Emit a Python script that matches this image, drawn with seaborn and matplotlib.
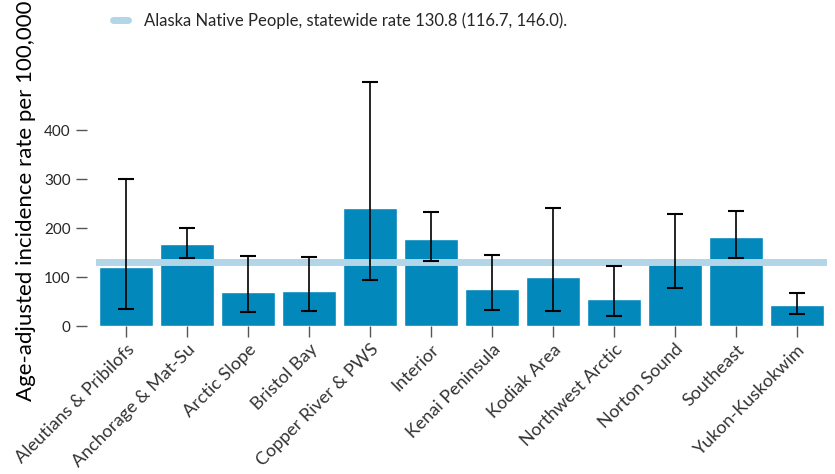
import matplotlib
matplotlib.use("Agg")
import matplotlib.pyplot as plt
import seaborn as sns
import numpy as np
import pandas as pd
from matplotlib.lines import Line2D

regions = ["Aleutians & Pribilofs", "Anchorage & Mat-Su", "Arctic Slope", "Bristol Bay",
           "Copper River & PWS", "Interior", "Kenai Peninsula", "Kodiak Area",
           "Northwest Arctic", "Norton Sound", "Southeast", "Yukon-Kuskokwim"]
rates = [121, 167, 69, 71, 241, 177, 75, 100, 55, 139, 182, 43]
lower = [35, 139, 28, 31, 95, 133, 33, 31, 20, 77, 139, 24]
upper = [300, 200, 144, 141, 498, 233, 145, 241, 122, 228, 234, 68]
statewide_rate = 130.8
statewide_label = "Alaska Native People, statewide rate 130.8 (116.7, 146.0)."
ytick_vals = [0, 100, 200, 300, 400]

sns.set_theme(style="white")
plt.rcParams['font.family'] = ['Lato', 'DejaVu Sans']

df = pd.DataFrame({"region": regions, "rate": rates})

fig = plt.figure(figsize=(8.35, 4.74), dpi=100)
ax = fig.add_axes([0.1144, 0.3122, 0.991 - 0.1144, 0.873 - 0.3122])

sns.barplot(data=df, x="region", y="rate", color="#0288bb", saturation=1, width=0.9, ax=ax)

ax.axhline(statewide_rate, color="#b3d5e8", lw=5, zorder=3)

x = np.arange(len(regions))
r = np.array(rates)
ax.errorbar(x, r, yerr=[r - np.array(lower), np.array(upper) - r], fmt="none",
            ecolor="black", elinewidth=1.2, capsize=6, capthick=1.5, zorder=4)

ax.set_ylim(0, 543)
ax.set_xlim(-0.5, len(regions) - 0.5)
ax.set_yticks(ytick_vals)
ax.set_yticklabels([str(v) for v in ytick_vals], fontsize=13, color="#333333")
ax.set_xticks(x)
ax.set_xticklabels(regions, rotation=45, ha="right", rotation_mode="anchor",
                   fontsize=13, color="#333333")
ax.tick_params(axis="both", which="both", length=8, width=1, color="#555555",
               left=True, bottom=True)
ax.tick_params(axis="x", pad=3)
ax.tick_params(axis="y", pad=4)
for s in ax.spines.values():
    s.set_visible(False)
ax.spines["left"].set_position(("outward", 6))
ax.set_xlabel("")
ax.set_ylabel("Age-adjusted incidence rate per 100,000", fontsize=16, color="black")
ax.yaxis.set_label_coords(-0.082, 0.47)

handle = Line2D([0], [0], color="#b3d5e8", lw=5)
fig.legend([handle], [statewide_label], loc="upper left", bbox_to_anchor=(0.117, 1.005),
           frameon=False, fontsize=12, handlelength=0.9, handletextpad=1.0)

fig.savefig("out.png", dpi=100)
